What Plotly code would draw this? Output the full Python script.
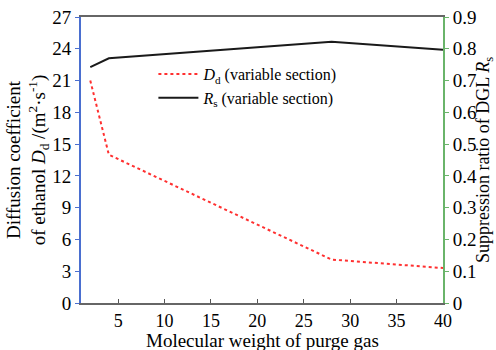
import plotly.graph_objects as go

# Data
mw_d = [2, 4, 28, 40]
dd_vals = [21.0, 14.0, 4.1, 3.3]
mw_r = [2, 4, 28, 40]
rs_vals = [0.742, 0.770, 0.822, 0.797]

x_ticks = [5, 10, 15, 20, 25, 30, 35, 40]
y1_ticks = [0, 3, 6, 9, 12, 15, 18, 21, 24, 27]
y2_ticks = [0, 0.1, 0.2, 0.3, 0.4, 0.5, 0.6, 0.7, 0.8, 0.9]
y2_labels = ["0", "0.1", "0.2", "0.3", "0.4", "0.5", "0.6", "0.7", "0.8", "0.9"]

FONT = "Liberation Serif"

fig = go.Figure()
fig.add_trace(go.Scatter(
    x=mw_d, y=dd_vals, mode="lines",
    name="<i>D</i><sub>d</sub> (variable section)",
    line=dict(color="#ff3030", width=2, dash="dot"),
    yaxis="y"))
fig.add_trace(go.Scatter(
    x=mw_r, y=rs_vals, mode="lines",
    name="<i>R</i><sub>s</sub> (variable section)",
    line=dict(color="#1a1a1a", width=2),
    yaxis="y2"))

fig.update_layout(
    width=496, height=350,
    margin=dict(l=81, r=53, t=17, b=47, autoexpand=False),
    paper_bgcolor="white", plot_bgcolor="white",
    font=dict(family=FONT, size=19, color="black"),
    showlegend=True,
    legend=dict(x=0.2, y=0.86, xanchor="left", yanchor="top",
                bgcolor="rgba(0,0,0,0)", font=dict(size=16, family=FONT),
                tracegroupgap=0, itemwidth=40),
    xaxis=dict(range=[1, 40], tickvals=x_ticks, ticks="inside", ticklen=4,
               tickcolor="#555", showline=True, linecolor="#666", linewidth=2,
               mirror=True, showgrid=False, zeroline=False, automargin=False,
               tickfont=dict(size=18, family=FONT)),
    yaxis=dict(range=[0, 27], tickvals=y1_ticks, ticks="outside", ticklen=4,
               tickcolor="#4a6fd0", showline=True, linecolor="#4a6fd0",
               linewidth=2, showgrid=False, zeroline=False, automargin=False,
               tickfont=dict(size=19, family=FONT),
               title=dict(text="Diffusion coefficient<br>of ethanol <i>D</i><sub>d</sub> /(m<sup>2</sup>·s<sup>-1</sup>)",
                          font=dict(size=19, family=FONT), standoff=2)),
    yaxis2=dict(range=[0, 0.9], tickvals=y2_ticks, ticktext=y2_labels,
                overlaying="y", side="right", ticks="outside", ticklen=4,
                tickcolor="#6ab46a", showline=True, linecolor="#6ab46a",
                linewidth=2, showgrid=False, zeroline=False, automargin=False,
                tickfont=dict(size=19, family=FONT),
                title=dict(text="Suppression ratio of DGL <i>R</i><sub>s</sub>",
                           font=dict(size=18, family=FONT), standoff=0)),
    annotations=[dict(text="Molecular weight of purge gas", xref="paper",
                      yref="paper", x=0.5, y=-0.088, xanchor="center",
                      yanchor="top", showarrow=False,
                      font=dict(size=19, family=FONT))],
)

fig.write_html("out.html")
